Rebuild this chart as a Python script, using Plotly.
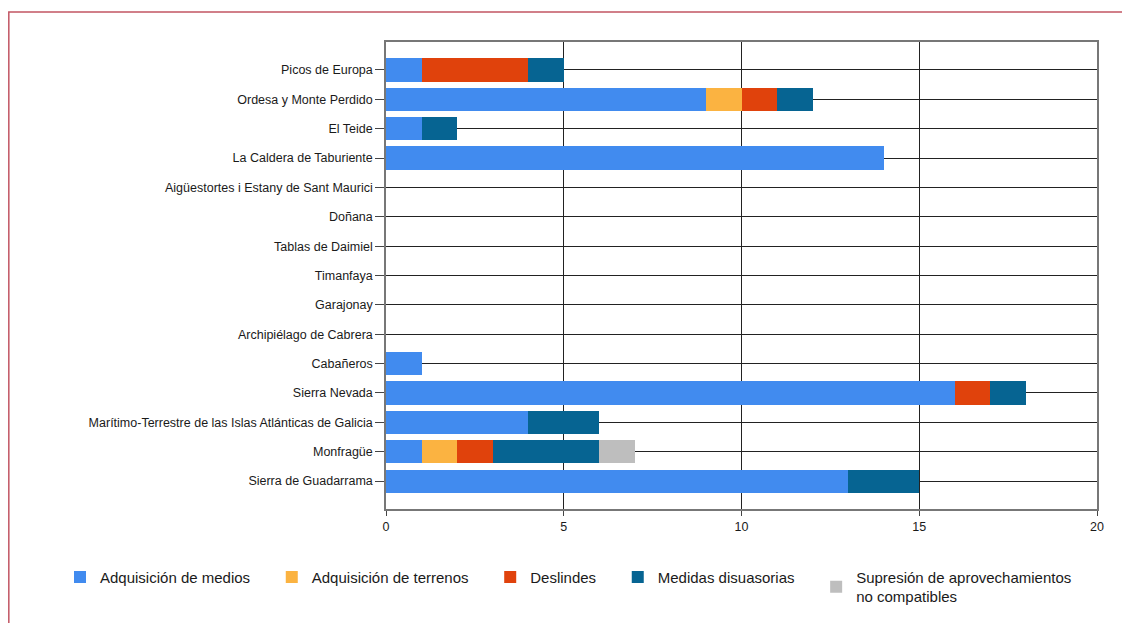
import plotly.graph_objects as go

# Parques nacionales (orden de arriba a abajo)
parques = [
    "Picos de Europa",
    "Ordesa y Monte Perdido",
    "El Teide",
    "La Caldera de Taburiente",
    "Aigüestortes i Estany de Sant Maurici",
    "Doñana",
    "Tablas de Daimiel",
    "Timanfaya",
    "Garajonay",
    "Archipiélago de Cabrera",
    "Cabañeros",
    "Sierra Nevada",
    "Marítimo-Terrestre de las Islas Atlánticas de Galicia",
    "Monfragüe",
    "Sierra de Guadarrama",
]

adq_medios = [1, 9, 1, 14, 0, 0, 0, 0, 0, 0, 1, 16, 4, 1, 13]
adq_terrenos = [0, 1, 0, 0, 0, 0, 0, 0, 0, 0, 0, 0, 0, 1, 0]
deslindes = [3, 1, 0, 0, 0, 0, 0, 0, 0, 0, 0, 1, 0, 1, 0]
medidas = [1, 1, 1, 0, 0, 0, 0, 0, 0, 0, 0, 1, 2, 3, 2]
supresion = [0, 0, 0, 0, 0, 0, 0, 0, 0, 0, 0, 0, 0, 1, 0]

pad = "\u00a0" * 4  # un poco mas de aire entre entradas de la leyenda
series = [
    ("Adquisición de medios" + pad, adq_medios, "#418BEF"),
    ("Adquisición de terrenos" + pad, adq_terrenos, "#FBB341"),
    ("Deslindes" + pad, deslindes, "#E0420C"),
    ("Medidas disuasorias" + pad, medidas, "#066492"),
    ("Supresión de aprovechamientos<br>no compatibles", supresion, "#BEBEBE"),
]

fig = go.Figure()
for name, vals, color in series:
    fig.add_trace(go.Bar(y=parques, x=vals, name=name, orientation="h",
                         marker=dict(color=color, line=dict(width=0))))

txt = dict(family="Liberation Sans, Arial, sans-serif", color="#1a1a1a")

fig.update_layout(
    barmode="stack",
    bargap=0.21,
    width=1130, height=623,
    margin=dict(l=378, r=41, t=34, b=122),
    paper_bgcolor="white", plot_bgcolor="white",
    font=dict(size=12, **txt),
    legend=dict(orientation="h", x=-0.4585, y=-0.111, xanchor="left", yanchor="top",
                font=dict(size=15, **txt), traceorder="normal", itemwidth=30,
                valign="middle"),
    shapes=[dict(type="rect", xref="paper", yref="paper",
                 x0=-0.5305, x1=1.2, y0=-0.4, y1=1.0645,
                 line=dict(color="#C25563", width=1.5))],
)
fig.update_xaxes(range=[0, 20], tickvals=[0, 5, 10, 15, 20], showgrid=True,
                 gridcolor="#222", gridwidth=1, showline=True, linecolor="#777",
                 linewidth=1.5, mirror=True, ticks="outside", ticklen=5,
                 tickcolor="#444", zeroline=False, tickfont=dict(size=12.5))
fig.update_yaxes(range=[14.95, -0.95], showgrid=True, gridcolor="#222", gridwidth=1,
                 showline=True, linecolor="#777", linewidth=1.5, mirror=True,
                 ticks="outside", ticklen=9, tickcolor="#444",
                 tickfont=dict(size=12.5))

fig.write_html("out.html")
